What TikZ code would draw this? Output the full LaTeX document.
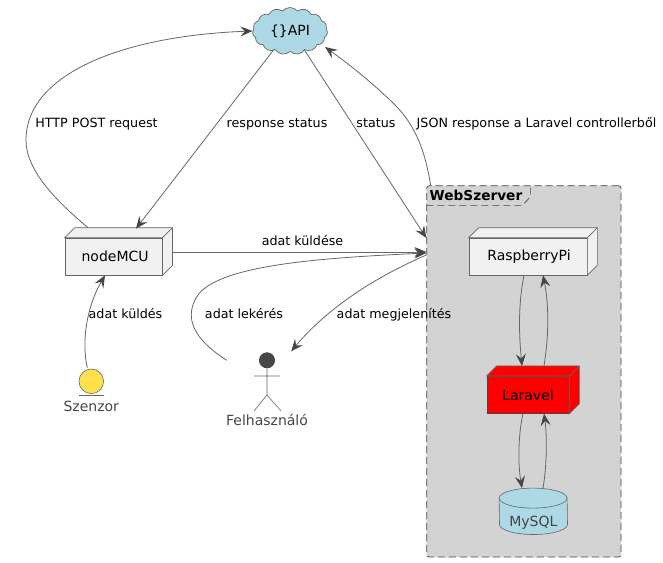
\documentclass[tikz,border=0pt]{standalone}
\usepackage{fontspec}
\usepackage{xcolor}
\setmainfont{DejaVu Sans}
\usetikzlibrary{arrows.meta,shapes.symbols}
\definecolor{linecol}{HTML}{454645}
\definecolor{edgecol}{HTML}{666666}
\definecolor{boxcol}{HTML}{F1F1F1}
\definecolor{framecol}{HTML}{D3D3D3}
\definecolor{dbcol}{HTML}{ADD8E6}
\definecolor{sensorcol}{HTML}{FFE14D}
\tikzset{
	edge/.style={draw=edgecol, line width=0.8pt, -{Stealth[length=12pt,width=10pt,inset=4.5pt,color=linecol]}},
	lbl/.style={anchor=base, inner sep=0pt, font=\fontsize{12.7}{15}\selectfont},
	boxnode/.style={draw=edgecol, line width=0.7pt, fill=boxcol, inner sep=0pt, minimum height=37pt, font=\fontsize{14}{16}\selectfont},
	greytext/.style={anchor=base, inner sep=0pt, text=linecol, font=\fontsize{14}{16}\selectfont},
	dashframe/.style={draw=linecol, line width=0.7pt, dash pattern=on 7pt off 4pt}
}
\newcommand{\depthof}[2]{
	\filldraw [draw=edgecol, line width=0.7pt, fill=#2] (#1.north west) -- ++(10,-10) -- ([shift={(10pt,10pt)}]#1.north east) -- ([shift={(10pt,10pt)}]#1.south east) -- (#1.south east) -- (#1.north east) -- cycle;
	\draw [draw=edgecol, line width=0.7pt] (#1.north east) -- ([shift={(10pt,10pt)}]#1.north east);
}
\begin{document}
\begin{tikzpicture}[x=1pt,y=-1pt]
	\useasboundingbox (0,0) rectangle (663,562);

	% package
	\node (frame) [dashframe, fill=framecol, rounded corners=2.5pt, inner sep=0pt, minimum width=194.3pt, minimum height=371.3pt] at (523.85,371.35) {};
	\draw [dashframe] (frame.north west) ++(0pt,-20pt) -- ++(96.3,0) -- ++(7.7,-8.7) -- ++(0,-11.3);
	\node (web) [anchor=base west, inner sep=0pt, font=\fontsize{13.7}{16}\selectfont\bfseries] at (429.5,200) {WebSzerver};

	% nodes
	\node (api) [cloud, cloud puffs=15, cloud puff arc=100, aspect=1.7, draw=edgecol, fill=dbcol, line width=0.7pt, inner sep=0pt, minimum width=75pt, minimum height=47pt, font=\fontsize{14}{16}\selectfont] at (290,31) {\{\}API};
	\node (mcu) [boxnode, minimum width=97pt] at (113.6,256.5) {\kern3pt nodeMCU};
	\depthof{mcu}{boxcol}
	\node (pi) [boxnode, minimum width=118pt] at (528,256.5) {\kern2pt RaspberryPi};
	\depthof{pi}{boxcol}
	\node (laravel) [boxnode, fill=red, draw=linecol, minimum width=82pt] at (528,394.8) {Laravel};
	\depthof{laravel}{red}

	% database
	\node (mysql) [inner sep=0pt, minimum width=68pt, minimum height=46pt] at (533.3,511.3) {};
	\filldraw [draw=edgecol, fill=dbcol, line width=0.6pt] ([yshift=-10pt]mysql.north west) arc[start angle=180, end angle=0, x radius=34pt, y radius=10pt] -- ([yshift=10pt]mysql.south east) arc[start angle=360, end angle=180, x radius=34pt, y radius=10pt] -- cycle;
	\draw [draw=edgecol, line width=0.6pt] ([yshift=-10pt]mysql.north west) arc[start angle=180, end angle=360, x radius=34pt, y radius=10pt];
	\node (dbtext) [greytext] at (533.3,526) {MySQL};

	% szenzor
	\node (sensor) [circle, draw=edgecol, fill=sensorcol, line width=0.6pt, inner sep=0pt, minimum size=24.6pt] at (91.3,381.3) {};
	\draw [draw=edgecol, line width=0.6pt] (79,395) -- (104,395);
	\node (sensortext) [greytext] at (91.3,411) {Szenzor};

	% user
	\node (user) [circle, fill=linecol, inner sep=0pt, minimum size=16pt] at (267,360.3) {};
	\draw [draw=edgecol, line width=0.6pt] (user.south) -- (267,395) -- (254,411) (267,395) -- (281,411) (254,376) -- (280,376);
	\node (usertext) [greytext] at (267,425) {Felhasználó};

	% arrows
	\draw [edge] ([shift={(-25.6pt,10pt)}]mcu.north) .. controls (55,200) and (26,170) .. (26,140) .. controls (26,75) and (120,36) .. (api.west);
	\draw [edge] ([shift={(-16pt,2.5pt)}]api.south) -- ([shift={(22.4pt,9pt)}]mcu.north);
	\draw [edge] ([shift={(14pt,2.5pt)}]api.south) -- ([yshift=133.35pt]frame.west);
	\draw [edge] ([xshift=4.3pt]frame.north west) .. controls (425,150) and (415,125) .. (395,105) .. controls (375,85) and (350,65) .. ([shift={(-2.5pt,-16pt)}]api.east);
	\draw [edge] ([shift={(10pt,4.5pt)}]mcu.east) -- ([yshift=119.35pt]frame.west);
	\draw [edge] ([xshift=-32pt]user.west) .. controls (195,340) and (185,320) .. (195,300) .. controls (210,265) and (320,258) .. ([yshift=118.35pt]frame.west);
	\draw [edge] ([yshift=116.35pt]frame.west) .. controls (380,275) and (330,305) .. ([shift={(16pt,9pt)}]user.east);
	\draw [edge] ([shift={(-4pt,1pt)}]sensor.north) .. controls (82,345) and (85,310) .. ([shift={(-8.6pt,0pt)}]mcu.south);
	\draw [edge] ([xshift=-4pt]pi.south) .. controls (518,305) and (519,335) .. ([shift={(-6pt,10pt)}]laravel.north);
	\draw [edge] ([shift={(16pt,10pt)}]laravel.north) .. controls (549,335) and (549,305) .. ([xshift=15pt]pi.south);
	\draw [edge] ([xshift=-5pt]laravel.south) .. controls (518,435) and (518,465) .. ([xshift=-11.3pt]mysql.north);
	\draw [edge] ([xshift=9.7pt]mysql.north) .. controls (547,465) and (547,435) .. ([xshift=16pt]laravel.south);

	% labels
	\node (l1) [lbl] at (96.5,127) {HTTP POST request};
	\node (l2) [lbl] at (277,127) {response status};
	\node (l3) [lbl] at (376,127) {status};
	\node (l4) [lbl] at (536.5,127) {JSON response a Laravel controllerből};
	\node (l5) [lbl] at (302.5,245.5) {adat küldése};
	\node (l6) [lbl] at (125.5,318) {adat küldés};
	\node (l7) [lbl] at (244,318) {adat lekérés};
	\node (l8) [lbl] at (394,318) {adat megjelenítés};
\end{tikzpicture}
\end{document}
